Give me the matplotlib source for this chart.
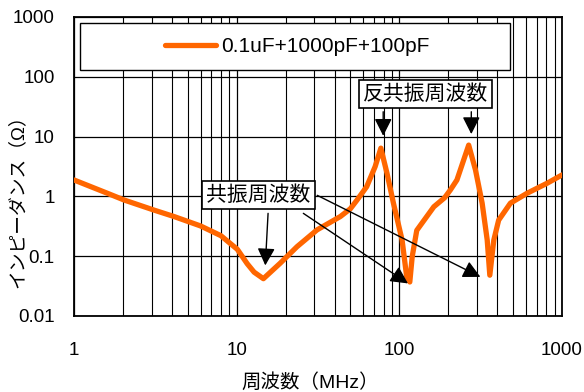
import matplotlib

matplotlib.use('Agg')
import matplotlib.pyplot as plt
from matplotlib.patches import Rectangle

plt.rcParams['font.family'] = ['Liberation Sans', 'Noto Sans CJK JP', 'DejaVu Sans']

# impedance curve (MHz, ohm)
freq_mhz = [1, 1.6, 2.03, 3.1, 4.12, 6.0, 8.0, 10.1, 11.6, 12.8, 14.6, 18.5, 23.5, 31.2,
            43.4, 50, 55, 63, 71, 77, 84, 92, 104, 111, 116, 120, 128, 163, 190, 206,
            226, 267, 294, 323, 347, 360, 381, 408, 482, 611, 811, 1000]
impedance = [1.88, 1.13, 0.87, 0.59, 0.46, 0.32, 0.22, 0.13, 0.075, 0.054, 0.042, 0.076,
             0.144, 0.275, 0.46, 0.62, 0.87, 1.45, 3.14, 6.4, 2.43, 0.77, 0.186, 0.045,
             0.037, 0.098, 0.27, 0.67, 0.95, 1.28, 1.88, 7.2, 2.76, 0.77, 0.186, 0.048,
             0.186, 0.40, 0.77, 1.13, 1.66, 2.28]
series_label = '0.1uF+1000pF+100pF'
x_ticks = [1, 10, 100, 1000]
x_tick_labels = ['1', '10', '100', '1000']
y_ticks = [0.01, 0.1, 1, 10, 100, 1000]
y_tick_labels = ['0.01', '0.1', '1', '10', '100', '1000']
x_label = '周波数（MHz）'
y_label = 'インピーダンス（Ω）'

antires_text = '反共振周波数'
antires_box = (145, 52)
antires_arrows = [((79.6, 26), (79.6, 10.3)), ((277, 26), (277, 11))]
res_text = '共振周波数'
res_box = (13.6, 1.04)
res_arrows = [((15.6, 0.52), (15.0, 0.07)),
              ((25.7, 0.52), (113, 0.035)),
              ((31.3, 1.04), (315, 0.045))]

fig = plt.figure(figsize=(5.84, 3.92), dpi=100)
ax = fig.add_axes([0.1267, 0.194, 0.8356, 0.7627])

ax.plot(freq_mhz, impedance, color='#FF6600', linewidth=3.8, solid_capstyle='round',
        solid_joinstyle='round', label=series_label, zorder=3)
ax.set_xscale('log')
ax.set_yscale('log')
ax.set_xlim(1, 1000)
ax.set_ylim(0.01, 1000)

ax.set_xticks(x_ticks)
ax.set_xticklabels(x_tick_labels)
ax.set_yticks(y_ticks)
ax.set_yticklabels(y_tick_labels)
ax.minorticks_on()
ax.yaxis.set_minor_locator(matplotlib.ticker.NullLocator())
ax.tick_params(which='both', length=0, labelsize=13.5)
ax.tick_params(axis='x', pad=19)
ax.tick_params(axis='y', pad=14)
ax.grid(True, which='major', color='black', linewidth=0.9)
ax.grid(True, which='minor', axis='x', color='black', linewidth=0.8)
for s in ax.spines.values():
    s.set_linewidth(1.3)

fig.text(310 / 584, 1 - 382 / 392, x_label, fontsize=14, ha='center', va='center')
fig.text(18 / 584, 1 - 197 / 392, y_label, fontsize=13.5, ha='center', va='center',
         rotation=90)

# legend: frame drawn as a plain rectangle, entry centred inside it
ax.add_patch(Rectangle((0.012, 0.823), 0.881, 0.157, transform=ax.transAxes,
                       facecolor='white', edgecolor='black', linewidth=1.0, zorder=4))
leg = ax.legend(loc='center', bbox_to_anchor=(0.457, 0.901), fontsize=15, frameon=False,
                handlelength=2.45, handletextpad=0.25, borderpad=0)
leg.set_zorder(6)

box_style = dict(boxstyle='square,pad=0.2', facecolor='white', edgecolor='black', linewidth=1.2)
ax.text(antires_box[0], antires_box[1], antires_text, fontsize=15, ha='center', va='center',
        bbox=box_style, zorder=5)
ax.text(res_box[0], res_box[1], res_text, fontsize=15, ha='center', va='center',
        bbox=box_style, zorder=5)

arrow_style = dict(arrowstyle='-|>,head_length=0.75,head_width=0.38', color='black',
                   linewidth=1.0, shrinkA=0, shrinkB=0, mutation_scale=14)
for start, end in antires_arrows + res_arrows:
    ax.annotate('', xy=end, xytext=start, arrowprops=arrow_style, zorder=4)

fig.savefig('out.png', dpi=100)
